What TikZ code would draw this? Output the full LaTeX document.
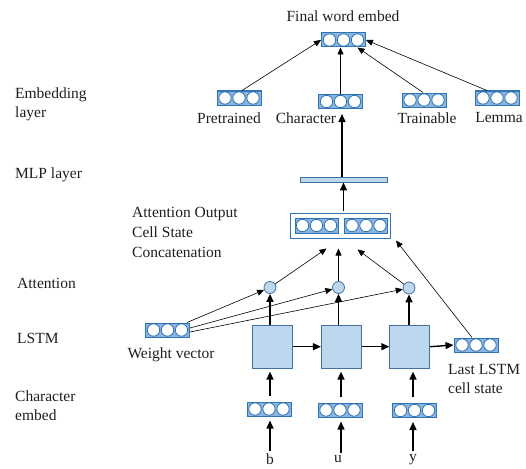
\documentclass[tikz,border=0pt]{standalone}
\usepackage{fontspec}
\setmainfont{Liberation Serif}
\usetikzlibrary{arrows.meta}
\definecolor{vborder}{RGB}{46,117,182}
\definecolor{vfill}{RGB}{140,180,222}
\definecolor{lfill}{RGB}{189,215,238}
\definecolor{lborder}{RGB}{65,113,156}
\definecolor{txtc}{RGB}{30,30,30}
\begin{document}
\begin{tikzpicture}[x=1pt,y=-1pt,
  font=\fontsize{15.5}{19}\selectfont, text=txtc,
  vec/.style={draw=vborder, fill=vfill, line width=1pt, minimum width=44pt, minimum height=14pt, inner sep=0pt,
    path picture={\foreach \i in {-1,0,1}{\draw[vborder, fill=white, line width=0.8pt] ([xshift=\i*14pt]path picture bounding box.center) circle (6.2pt);}}},
  txt/.style={inner sep=0pt},
  ltxt/.style={inner sep=0pt, anchor=west, align=left},
  lstm/.style={draw=lborder, fill=lfill, line width=0.8pt, minimum width=40pt, minimum height=43pt, inner sep=0pt},
  att/.style={circle, draw=lborder, fill=lfill, line width=0.8pt, minimum size=12pt, inner sep=0pt},
  bar/.style={draw=lborder, fill=lfill, line width=0.8pt, minimum width=87pt, minimum height=5pt, inner sep=0pt},
  catbox/.style={draw=vborder, fill=white, line width=1pt, minimum width=100pt, minimum height=25pt, inner sep=0pt},
  tarr/.style={-{Triangle[length=7pt,width=6pt]}, line width=0.6pt},
  Tarr/.style={-{Triangle[length=8pt,width=7pt]}, line width=1.4pt}
]
\useasboundingbox (0,0) rectangle (526,468);

% top
\node[txt] (tfin) at (343,16) {Final word embed};
\node[vec] (fin) at (343.5,40) {};
\node[vec] (pre) at (239,98) {};
\node[vec] (chr) at (340.5,101.5) {};
\node[vec] (tra) at (424,100) {};
\node[vec] (lem) at (497,98) {};
\node[txt] (tpre) at (229,118) {Pretrained};
\node[txt] (tchr) at (306,118) {Character};
\node[txt] (ttra) at (427,118) {Trainable};
\node[txt] (tlem) at (499,118) {Lemma};

% mlp and concat
\node[bar] (mlp) at (343.5,179.5) {};
\node[catbox] (cat) at (340.5,225.5) {};
\node[vec, minimum width=43pt, minimum height=15pt] (cat1) at (316.5,225.5) {};
\node[vec, minimum width=43pt, minimum height=15pt] (cat2) at (366,225.5) {};
\node[ltxt] (tcat) at (132,232.5) {Attention Output\\[1pt]Cell State\\[1pt]Concatenation};

% attention
\node[att] (a1) at (270,287.5) {};
\node[att] (a2) at (338.5,287.5) {};
\node[att] (a3) at (409,288) {};

% lstm
\node[lstm] (l1) at (272.7,346.7) {};
\node[lstm] (l2) at (341.3,346.7) {};
\node[lstm] (l3) at (409.7,346.7) {};
\node[vec] (last) at (476,345) {};
\node[vec] (w) at (167.5,330) {};
\node[txt] (tw) at (171,355) {Weight vector};
\node[ltxt] (tlast) at (448,379) {Last LSTM\\cell state};

% char embed
\node[vec] (c1) at (269,409) {};
\node[vec] (c2) at (340,410) {};
\node[vec] (c3) at (414.5,410.5) {};
\node[txt] (lb) at (270,459.5) {b};
\node[txt] (lu) at (338,459.5) {u};
\node[txt] (ly) at (413,459.5) {y};

% left labels
\node[ltxt] (tel) at (15,104) {Embedding\\layer};
\node[ltxt] (tmlp) at (15,175) {MLP layer};
\node[ltxt] (tatt) at (17,283) {Attention};
\node[ltxt] (tlstm) at (17,338) {LSTM};
\node[ltxt] (tce) at (15,406) {Character\\embed};

% arrows top
\draw[tarr] ([xshift=3pt]pre.north) -- (fin.west);
\draw[tarr] (chr.north) -- (chr.north |- fin.south);
\draw[tarr] ([xshift=-1pt]tra.north) -- ([xshift=14pt]fin.south);
\draw[tarr] ([xshift=-10pt]lem.north) -- (fin.east);
\draw[Tarr, shorten >=5pt] ([xshift=-1.5pt]mlp.north) -- ([xshift=1.5pt]chr.south);
\draw[Tarr, shorten <=2pt] (mlp.south |- cat.north) -- (mlp.south);

% attention to concat
\draw[tarr] (a1) -- ([xshift=-14pt,yshift=-10pt]cat.south);
\draw[tarr] (a2) -- ([xshift=-2pt,yshift=-10pt]cat.south);
\draw[tarr] (a3) -- ([xshift=17pt,yshift=-11pt]cat.south);
\draw[tarr] ([xshift=-4pt]last.north) -- ([xshift=5pt,yshift=-2pt]cat.south east);

% weight vector to attention
\draw[tarr] ([xshift=-3pt]w.north east) -- (a1);
\draw[tarr] ([yshift=2pt]w.east) -- (a2);
\draw[tarr] ([yshift=-2pt]w.east) -- (a3);

% lstm to attention
\draw[Tarr] (a1.south |- l1.north) -- (a1.south);
\draw[Tarr] (a2.south |- l2.north) -- (a2.south);
\draw[Tarr] (a3.south |- l3.north) -- (a3.south);

% lstm chain
\draw[Tarr] (l1.east) -- (l2.west);
\draw[Tarr] (l2.east) -- (l3.west);
\draw[Tarr] (l3.east) -- (last.west);

% char embed to lstm
\draw[Tarr, shorten <=6pt, shorten >=3pt] ([xshift=1pt]c1.north) -- ([xshift=1pt]c1.north |- l1.south);
\draw[Tarr, shorten <=6pt, shorten >=3pt] ([xshift=1pt]c2.north) -- ([xshift=1pt]c2.north |- l2.south);
\draw[Tarr, shorten <=6pt, shorten >=3pt] ([xshift=-1.5pt]c3.north) -- ([xshift=-1.5pt]c3.north |- l3.south);

% letters to char embed
\draw[Tarr, shorten <=3pt, shorten >=4pt] (lb.north) -- (lb.north |- c1.south);
\draw[Tarr, shorten <=3pt, shorten >=4pt] ([xshift=3pt]lu.north) -- ([xshift=3pt]lu.north |- c2.south);
\draw[Tarr, shorten <=3pt, shorten >=4pt] (ly.north) -- (ly.north |- c3.south);
\end{tikzpicture}
\end{document}
